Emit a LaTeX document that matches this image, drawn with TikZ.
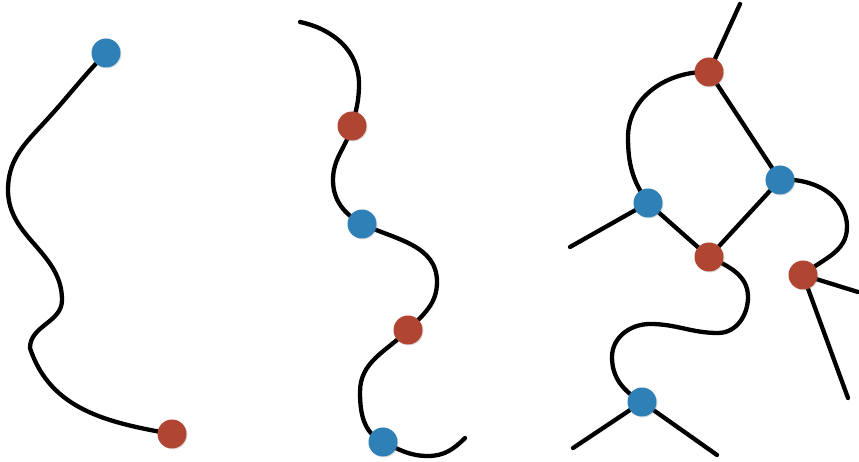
\documentclass[tikz,border=0pt]{standalone}
\usetikzlibrary{backgrounds, shadows}
\definecolor{dotblue}{HTML}{2E80B6}
\definecolor{dotred}{HTML}{B04531}

\begin{document}
\begin{tikzpicture}[
        x=1pt, y=1pt,
        dot/.style={circle, inner sep=0pt, minimum size=29pt,
                    drop shadow={opacity=0.25, shadow xshift=1pt, shadow yshift=-1pt}},
        bdot/.style={dot, fill=dotblue},
        rdot/.style={dot, fill=dotred},
        wire/.style={line width=4.3pt, black, line cap=round}
      ]
        \useasboundingbox (0,0) rectangle (859,462);
        % left strand
        \node[bdot] (a1) at (106,409) {};
        \node[rdot] (a2) at (172,28) {};
        % middle strand
        \coordinate (m0) at (300,440);
        \node[rdot] (m1) at (352,336) {};
        \node[bdot] (m2) at (362,238) {};
        \node[rdot] (m3) at (408,132) {};
        \node[bdot] (m4) at (383,20) {};
        \coordinate (m5) at (465,24);
        % network
        \node[rdot] (n1) at (709,390) {};
        \node[bdot] (n2) at (648,259) {};
        \node[bdot] (n3) at (780,282) {};
        \node[rdot] (n4) at (709,205) {};
        \node[rdot] (n5) at (803,187) {};
        \node[bdot] (n6) at (642,60) {};
        \coordinate (e1) at (740,458);
        \coordinate (e2) at (570,215);
        \coordinate (e3) at (858,170);
        \coordinate (e4) at (848,64);
        \coordinate (e5) at (573,14);
        \coordinate (e6) at (717,7);
        \begin{scope}[on background layer]
          \draw[wire] (a1.center) to[out=-134,in=47] (42,337) to[out=-133,in=90] (8,272)
                      to[out=-90,in=90] (62,162) to[out=-90,in=90] (30,114)
                      to[out=-72,in=170] (a2.center);
          \draw[wire] (m0) to[out=-12,in=90] (359,378) to[out=-90,in=75] (m1.center)
                      to[out=-105,in=90] (333,282) to[out=-90,in=150] (m2.center)
                      to[out=-25,in=90] (437,180) to[out=-90,in=45] (m3.center)
                      to[out=-135,in=90] (360,70) to[out=-90,in=155] (m4.center)
                      to[out=-25,in=180] (428,6) to[out=0,in=-135] (m5);
          \draw[wire] (n1.center) -- (e1);
          \draw[wire] (n1.center) to[out=178,in=90] (628,325) to[out=-90,in=125] (n2.center);
          \draw[wire] (n2.center) -- (e2);
          \draw[wire] (n1.center) -- (n3.center) -- (n4.center) -- (n2.center);
          \draw[wire] (n3.center) to[out=5,in=90] (847,235) to[out=-90,in=40] (n5.center);
          \draw[wire] (n5.center) -- (e3);
          \draw[wire] (n5.center) -- (e4);
          \draw[wire] (n4.center) to[out=-25,in=90] (748,165) to[out=-90,in=0] (718,129)
                      to[out=180,in=0] (650,138) to[out=180,in=90] (612,105)
                      to[out=-90,in=150] (n6.center);
          \draw[wire] (n6.center) -- (e5);
          \draw[wire] (n6.center) -- (e6);
        \end{scope}
      \end{tikzpicture}
\end{document}
